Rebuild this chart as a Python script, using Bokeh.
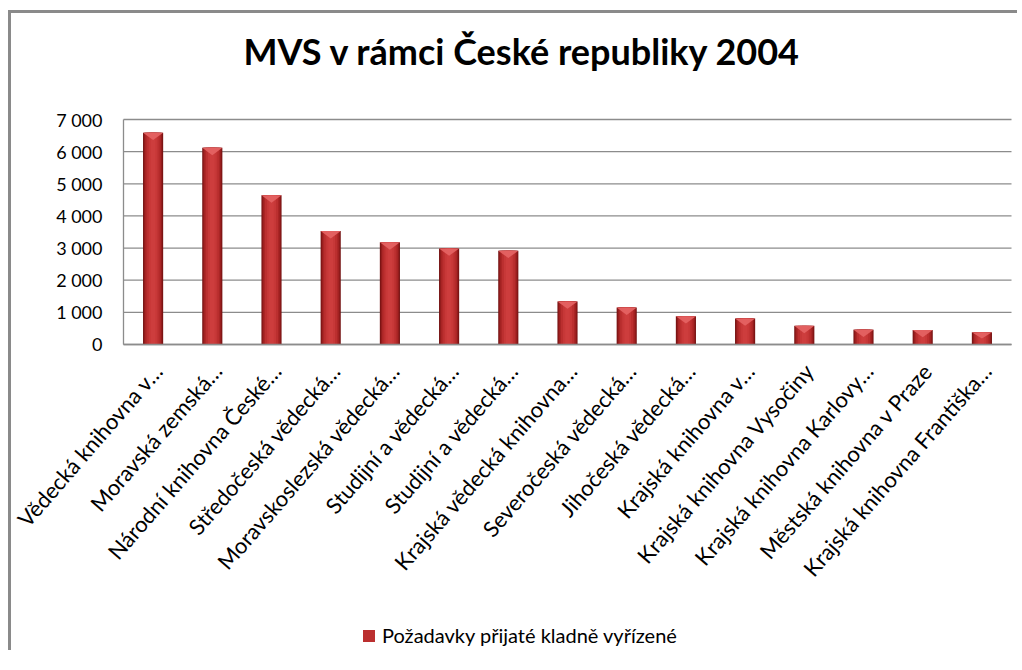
from math import radians
from bokeh.plotting import figure
from bokeh.models import Legend, LegendItem, ColumnDataSource, Label
from bokeh.core.properties import value
from bokeh.embed import file_html
from bokeh.resources import INLINE

title_text = "MVS v rámci České republiky 2004"
series_name = "Požadavky přijaté kladně vyřízené"
categories = [
    "Vědecká knihovna v…",
    "Moravská zemská…",
    "Národní knihovna České…",
    "Středočeská vědecká…",
    "Moravskoslezská vědecká…",
    "Studijní a vědecká…",
    "Studijní a vědecká…",
    "Krajská vědecká knihovna…",
    "Severočeská vědecká…",
    "Jihočeská vědecká…",
    "Krajská knihovna v…",
    "Krajská knihovna Vysočiny",
    "Krajská knihovna Karlovy…",
    "Městská knihovna v Praze",
    "Krajská knihovna Františka…",
]
values = [6590, 6120, 4640, 3530, 3180, 2990, 2920, 1340, 1150, 880, 810, 580, 460, 450, 380]
y_ticks = [0, 1000, 2000, 3000, 4000, 5000, 6000, 7000]
y_tick_labels = ["0", "1 000", "2 000", "3 000", "4 000", "5 000", "6 000", "7 000"]

FONT = "Lato"
GRID_COLOR = "#8c8c8c"
positions = list(range(1, len(categories) + 1))

# ---- layout in page pixels (the figure's content box starts at page (11, 13)) ----
W, H = 1009, 640
PAGE_LEFT, PAGE_TOP = 11, 13
PAGE_RIGHT, PAGE_BOTTOM = PAGE_LEFT + W, PAGE_TOP + H
PLOT_LEFT, PLOT_RIGHT = 123, 1011     # category area
ZERO_Y, TOP_Y = 344, 119              # value 0 and top tick
x0, x1 = 0.5, len(categories) + 0.5
px_per_x = (PLOT_RIGHT - PLOT_LEFT) / (x1 - x0)
px_per_y = (ZERO_Y - TOP_Y) / y_ticks[-1]
x_start = x0 - (PLOT_LEFT - PAGE_LEFT) / px_per_x
x_end = x0 + (PAGE_RIGHT - PLOT_LEFT) / px_per_x
y_start = -(PAGE_BOTTOM - ZERO_Y) / px_per_y
y_end = (ZERO_Y - PAGE_TOP) / px_per_y

p = figure(width=W, height=H, x_range=(x_start, x_end), y_range=(y_start, y_end),
           x_axis_location=None, y_axis_location=None,
           output_backend="svg", toolbar_location=None,
           min_border_left=0, min_border_top=0, min_border_right=0, min_border_bottom=0)
p.styles = {"border-left": "3px solid #8a8a8a", "border-top": "3px solid #8a8a8a",
            "margin-top": "10px", "margin-left": "8px"}
p.outline_line_color = None
p.background_fill_color = "white"
p.border_fill_color = "white"
p.grid.visible = False

# ---- title ----
title_x = x0 + (522 - PLOT_LEFT) / px_per_x
title_y = (ZERO_Y - 50) / px_per_y
p.add_layout(Label(x=title_x, y=title_y, text=title_text, text_align="center",
                   text_baseline="alphabetic", text_font=FONT, text_font_size="36px",
                   text_font_style="bold", text_color="black"))

# ---- gridlines and value axis ----
n = len(y_ticks)
p.segment(x0=[x0] * n, y0=y_ticks, x1=[x1] * n, y1=y_ticks, line_color=GRID_COLOR, line_width=1.3)
p.segment(x0=[x0], y0=[y_ticks[0]], x1=[x0], y1=[y_ticks[-1]], line_color=GRID_COLOR, line_width=1.3)
p.text(x=[x0] * n, y=y_ticks, text=y_tick_labels, text_align="right", text_baseline="middle",
       x_offset=-21, text_font=value(FONT), text_font_size="18px", text_color="black")

# ---- bars (layered for a cylinder-like shading) ----
src = ColumnDataSource(dict(x=positions, top=values))
layers = [(0.34, "#741212"), (0.31, "#931c1c"), (0.27, "#aa2626"), (0.22, "#bb2f2f"),
          (0.15, "#c73838"), (0.08, "#cd3d3d")]
legend_r = None
for w, c in layers:
    r = p.vbar(x="x", top="top", bottom=0, width=w, source=src, fill_color=c, line_color=None)
    if w == 0.22:
        legend_r = r

bevel_xs = [[x - 0.17, x + 0.17, x] for x in positions]
bevel_ys = [[v, v, v - min(230, v * 0.5)] for v in values]
p.patches(bevel_xs, bevel_ys, fill_color="#e46262", line_color=None, fill_alpha=0.95)

# redraw the baseline over the bars
p.segment(x0=[x0], y0=[y_ticks[0]], x1=[x1], y1=[y_ticks[0]], line_color=GRID_COLOR, line_width=1.3)

# ---- category labels ----
p.text(x=positions, y=[y_ticks[0]] * len(positions), text=categories,
       angle=radians(49), text_align="right", text_baseline="alphabetic",
       x_offset=5, y_offset=22, text_font=value(FONT), text_font_size="22px", text_color="black")

# ---- legend ----
legend = Legend(items=[LegendItem(label=series_name, renderers=[legend_r])],
                location=(350, 6), orientation="horizontal",
                label_text_font=FONT, label_text_font_size="20px", label_text_color="black",
                glyph_width=15, glyph_height=15, border_line_color=None, background_fill_alpha=0,
                margin=0, padding=0, label_standoff=6)
p.add_layout(legend, "center")

open("out.html", "w").write(file_html(p, INLINE))
